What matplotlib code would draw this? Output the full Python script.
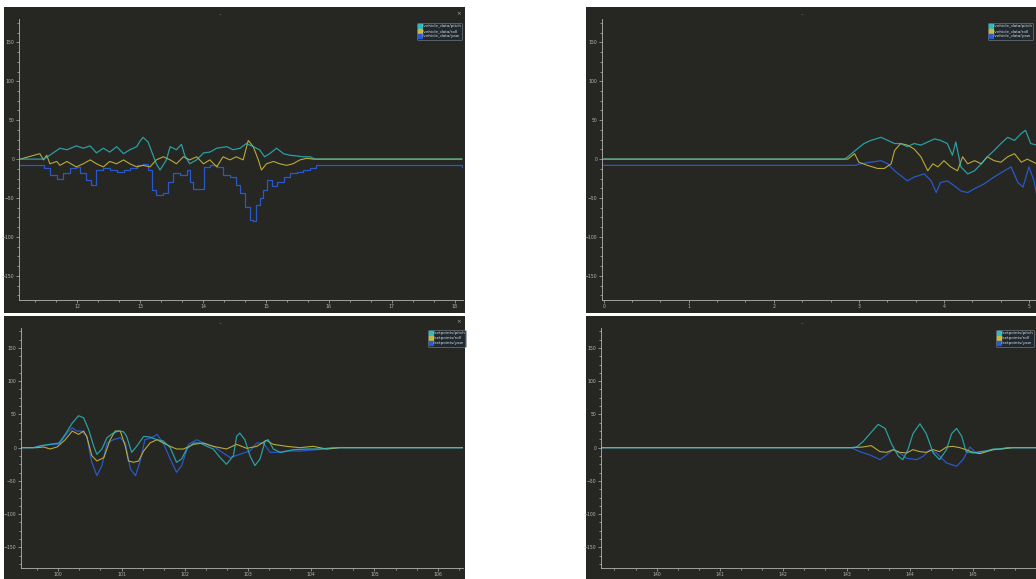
import numpy as np
import matplotlib
matplotlib.use("Agg")
import matplotlib.pyplot as plt
from matplotlib.patches import Rectangle
from matplotlib.lines import Line2D
from matplotlib.ticker import AutoMinorLocator

W, H = 1036, 579

# ---- top left: /vehicle_data ----
tl_pitch_t = [11.10, 11.47, 11.57, 11.73, 11.84, 11.99, 12.10, 12.21, 12.31, 12.42,
              12.52, 12.63, 12.74, 12.84, 12.95, 13.00, 13.05, 13.13, 13.19, 13.26,
              13.32, 13.42, 13.48, 13.58, 13.66, 13.71, 13.79, 13.90, 14.01, 14.11,
              14.22, 14.38, 14.48, 14.59, 14.69, 14.80, 14.90, 14.98, 15.06, 15.17,
              15.28, 15.38, 15.49, 15.59, 15.70, 15.78, 18.11]
tl_pitch_v = [0, 0, 5, 14, 12, 17, 14, 17, 8, 14,
              9, 16, 7, 12, 16, 23, 28, 22, 9, -6,
              -14, -1, 16, 12, 19, 5, -6, -1, 8, 9,
              14, 16, 12, 14, 20, 16, 12, 3, 7, 14,
              7, 5, 4, 3, 3, 0, 0]
tl_roll_t = [11.10, 11.41, 11.47, 11.52, 11.57, 11.68, 11.73, 11.84, 11.99, 12.10,
             12.21, 12.31, 12.42, 12.52, 12.63, 12.74, 12.84, 12.95, 13.05, 13.16,
             13.26, 13.37, 13.48, 13.58, 13.69, 13.79, 13.90, 14.01, 14.11, 14.22,
             14.32, 14.43, 14.53, 14.64, 14.72, 14.80, 14.88, 14.93, 15.01, 15.12,
             15.22, 15.33, 15.43, 15.54, 15.65, 15.75, 18.11]
tl_roll_v = [0, 7, -1, 5, -6, -3, -8, -3, -10, -6,
             -1, -6, -10, -3, -6, -1, -6, -10, -8, -10,
             -1, 3, -1, -6, 3, -1, 3, -6, -1, -10,
             3, -1, 3, -1, 24, 16, -1, -14, -6, -3,
             -6, -8, -6, -1, 1, 0, 0]
tl_yaw_t = [11.10, 11.41, 11.47, 11.57, 11.68, 11.78, 11.89, 11.99, 12.05, 12.15,
            12.23, 12.31, 12.42, 12.52, 12.63, 12.74, 12.84, 12.95, 13.05, 13.13,
            13.19, 13.26, 13.37, 13.45, 13.53, 13.63, 13.74, 13.79, 13.85, 13.95,
            14.01, 14.11, 14.22, 14.32, 14.43, 14.53, 14.59, 14.67, 14.75, 14.80,
            14.85, 14.90, 14.96, 15.01, 15.09, 15.17, 15.28, 15.38, 15.49, 15.59,
            15.70, 15.80, 18.11]
tl_yaw_v = [-8, -8, -12, -20, -25, -18, -12, -10, -18, -27,
            -33, -14, -12, -14, -16, -14, -12, -8, -6, -14,
            -40, -46, -44, -29, -18, -20, -14, -29, -38, -38,
            -10, -8, -10, -20, -23, -33, -44, -61, -78, -80,
            -59, -50, -40, -27, -35, -29, -23, -18, -16, -14,
            -12, -8, -10]

# ---- top right ----
tr_pitch_t = [0.0, 2.83, 2.87, 2.98, 3.06, 3.14, 3.26, 3.34, 3.42, 3.49,
              3.57, 3.65, 3.73, 3.81, 3.89, 3.96, 4.04, 4.10, 4.14, 4.20,
              4.28, 4.36, 4.44, 4.51, 4.59, 4.67, 4.75, 4.83, 4.91, 4.96,
              5.02, 5.09, 5.2, 5.3]
tr_pitch_v = [0, 0, 3, 13, 20, 24, 28, 24, 20, 20,
              16, 20, 18, 22, 26, 24, 20, 5, 22, -10,
              -19, -15, -6, 3, 11, 20, 28, 24, 33, 37,
              20, 18, 22, 20]
tr_roll_t = [0.0, 2.87, 2.95, 3.00, 3.10, 3.22, 3.30, 3.38, 3.42, 3.49,
             3.57, 3.65, 3.73, 3.81, 3.87, 3.93, 4.00, 4.08, 4.16, 4.22,
             4.28, 4.36, 4.44, 4.51, 4.59, 4.67, 4.75, 4.83, 4.91, 4.98,
             5.09, 5.2, 5.3]
tr_roll_v = [0, 0, 7, -4, -8, -12, -12, -6, 11, 20,
             18, 13, 3, -15, -6, -10, -2, -10, -15, 3,
             -6, -2, -6, 3, -2, -4, 3, 7, -4, 0,
             -6, -2, -4]
tr_yaw_t = [0.0, 2.95, 3.02, 3.14, 3.26, 3.34, 3.42, 3.49, 3.57, 3.65,
            3.77, 3.85, 3.91, 3.96, 4.04, 4.12, 4.20, 4.28, 4.36, 4.47,
            4.59, 4.71, 4.79, 4.87, 4.93, 5.00, 5.06, 5.09, 5.2, 5.3]
tr_yaw_v = [-8, -8, -6, -4, -2, -6, -15, -21, -28, -23,
            -19, -28, -43, -30, -28, -34, -41, -43, -38, -32,
            -23, -15, -10, -30, -36, -10, -28, -45, -30, -25]

# ---- bottom left: setpoints ----
bl_pitch_t = [99.41, 99.61, 99.72, 99.87, 100.01, 100.11, 100.22, 100.32, 100.40, 100.48,
              100.56, 100.61, 100.69, 100.77, 100.87, 100.95, 101.03, 101.08, 101.16, 101.24,
              101.35, 101.45, 101.56, 101.66, 101.77, 101.87, 101.95, 102.03, 102.14, 102.24,
              102.35, 102.45, 102.56, 102.66, 102.77, 102.82, 102.87, 102.95, 103.03, 103.11,
              103.19, 103.27, 103.32, 103.40, 103.51, 103.61, 103.72, 103.93, 104.14, 104.35,
              104.45, 106.40]
bl_pitch_v = [0, 0, 3, 5, 7, 20, 37, 48, 45, 27,
              2, -10, -2, 15, 22, 25, 24, 17, -7, 2,
              17, 16, 12, 10, 0, -22, -17, -2, 7, 7,
              2, -2, -15, -25, -12, 17, 22, 12, -12, -27,
              -17, 10, 12, -2, -7, -5, -3, -2, -2, 0,
              0, 0]
bl_roll_t = [99.41, 99.66, 99.77, 99.87, 99.98, 100.11, 100.22, 100.32, 100.40, 100.45,
             100.53, 100.61, 100.72, 100.82, 100.90, 100.98, 101.06, 101.11, 101.19, 101.27,
             101.35, 101.45, 101.56, 101.66, 101.77, 101.87, 101.98, 102.14, 102.29, 102.45,
             102.66, 102.82, 102.98, 103.14, 103.29, 103.40, 103.61, 103.82, 104.03, 104.24,
             104.35, 104.45, 106.40]
bl_roll_v = [0, 0, 1, -2, 1, 12, 25, 20, 25, 17,
             -12, -20, -15, 12, 25, 25, 2, -20, -22, -20,
             -5, 7, 12, 7, 2, -2, -2, 5, 7, 2,
             -2, 5, -1, 2, 11, 5, 2, 0, 2, -2,
             -1, 0, 0]
bl_yaw_t = [99.41, 99.61, 99.72, 99.87, 100.01, 100.14, 100.22, 100.29, 100.37, 100.45,
            100.53, 100.61, 100.69, 100.77, 100.87, 100.98, 101.06, 101.14, 101.22, 101.29,
            101.37, 101.48, 101.56, 101.66, 101.77, 101.87, 101.95, 102.06, 102.19, 102.29,
            102.45, 102.56, 102.72, 102.87, 103.03, 103.14, 103.24, 103.35, 103.51, 103.66,
            103.82, 104.08, 104.35, 104.45, 106.40]
bl_yaw_v = [0, 0, 2, 5, 5, 22, 30, 25, 25, 17,
            -22, -42, -27, 7, 12, 15, 7, -32, -42, -22,
            12, 15, 20, 7, -17, -37, -27, 5, 12, 7,
            2, -5, -15, -10, -5, 7, 7, -7, -7, -5,
            -5, -3, -1, 0, 0]

# ---- bottom right ----
br_pitch_t = [139.12, 143.08, 143.16, 143.26, 143.37, 143.50, 143.61, 143.71, 143.82, 143.89,
              143.97, 144.05, 144.16, 144.26, 144.37, 144.47, 144.58, 144.66, 144.74, 144.82,
              144.89, 145.00, 145.11, 145.21, 145.32, 145.42, 145.53, 146.5]
br_pitch_v = [0, 0, 1, 9, 21, 35, 29, 6, -13, -18,
              -3, 21, 36, 21, -8, -18, -3, 21, 29, 17,
              -6, -8, -6, -5, -2, -2, 0, 0]
br_roll_t = [139.12, 143.08, 143.26, 143.39, 143.53, 143.63, 143.74, 143.84, 143.95, 144.05,
             144.16, 144.26, 144.37, 144.47, 144.58, 144.68, 144.79, 144.89, 145.00, 145.11,
             145.21, 145.32, 145.42, 145.53, 145.63, 146.5]
br_roll_v = [0, 0, 1, 3, -6, -7, -3, -7, -8, -3,
             -6, -7, -3, -6, 1, 2, 0, -3, -7, -9,
             -6, -3, -2, -1, 0, 0]
br_yaw_t = [139.12, 143.08, 143.21, 143.37, 143.53, 143.63, 143.74, 143.84, 143.95, 144.11,
            144.21, 144.32, 144.42, 144.58, 144.74, 144.84, 144.95, 145.05, 145.16, 145.32,
            145.47, 145.58, 146.5]
br_yaw_v = [0, 0, -6, -11, -18, -11, -3, -8, -16, -18,
            -13, -3, -8, -23, -28, -18, 1, -8, -6, -3,
            -2, 0, 0]

top_names = ["/vehicle_data/pitch", "/vehicle_data/roll", "/vehicle_data/yaw"]
bot_names = ["/setpoints/pitch", "/setpoints/roll", "/setpoints/yaw"]

c_pitch = "#2cbcc0"
c_roll = "#c9b83a"
c_yaw = "#2b5bd2"
bg = "#262623"
fg = "#b4b4b4"

fig = plt.figure(figsize=(W / 100, H / 100), dpi=100, facecolor="white")


def px_rect(x0, y0, x1, y1):
    return [x0 / W, 1 - y1 / H, (x1 - x0) / W, (y1 - y0) / H]


def panel(x0, y0, x1, y1):
    fig.add_artist(Rectangle((x0 / W, 1 - y1 / H), (x1 - x0) / W, (y1 - y0) / H,
                             transform=fig.transFigure, facecolor=bg, edgecolor="none", zorder=0))
    fig.text((x0 + 216) / W, 1 - (y0 + 8) / H, "\u2013", color="#888888",
             fontsize=4, ha="center", va="center")


def setup(ax, xlim, xticks):
    ax.set_facecolor(bg)
    ax.patch.set_alpha(0)
    ax.set_xlim(*xlim)
    ax.set_ylim(-181, 180)
    for s in ["top", "right"]:
        ax.spines[s].set_visible(False)
    for s in ["left", "bottom"]:
        ax.spines[s].set_color(fg)
        ax.spines[s].set_linewidth(0.6)
    ax.set_yticks([-150, -100, -50, 0, 50, 100, 150])
    ax.yaxis.set_minor_locator(AutoMinorLocator(4))
    ax.set_xticks(xticks)
    ax.set_xticklabels([str(t) for t in xticks])
    ax.xaxis.set_minor_locator(AutoMinorLocator(3))
    ax.tick_params(which="both", colors=fg, labelsize=3.3, width=0.5, length=2, pad=1.2)
    ax.tick_params(which="minor", length=1.2)


def draw(ax, p, r, y, steps_yaw=False):
    ax.plot(y[0], y[1], color=c_yaw, lw=0.9, alpha=0.95,
            drawstyle="steps-post" if steps_yaw else "default")
    ax.plot(r[0], r[1], color=c_roll, lw=0.8, alpha=0.9)
    ax.plot(p[0], p[1], color=c_pitch, lw=0.9, alpha=0.8)


def legend(ax, names, x, y):
    handles = [Line2D([], [], marker="s", ls="none", color=c, markersize=2.5)
               for c in (c_pitch, c_roll, c_yaw)]
    leg = ax.legend(handles, names, loc="upper left", bbox_to_anchor=(x / W, 1 - y / H),
                    bbox_transform=fig.transFigure, fontsize=3, frameon=True,
                    facecolor="#1e2a33", edgecolor="#9aa5ad", labelcolor="#d8d8d8",
                    handlelength=0.6, handletextpad=0.3, borderpad=0.3, labelspacing=0.25,
                    borderaxespad=0)
    leg.get_frame().set_linewidth(0.4)


# panels
panel(4, 7, 465, 313)
panel(586, 7, 1036, 313)
panel(4, 316, 465, 579)
panel(586, 316, 1036, 579)

# top left
ax1 = fig.add_axes(px_rect(19, 19, 463, 300))
setup(ax1, (11.08, 18.13), [12, 13, 14, 15, 16, 17, 18])
draw(ax1, (tl_pitch_t, tl_pitch_v), (tl_roll_t, tl_roll_v), (tl_yaw_t, tl_yaw_v), steps_yaw=True)
legend(ax1, top_names, 417, 23)
fig.text(459 / W, 1 - 14 / H, "\u00d7", color="#aaaaaa", fontsize=4, ha="center", va="center")

# top right (the window is cut at the right edge of the picture)
ax2 = fig.add_axes(px_rect(602, 19, 1114, 300))
setup(ax2, (-0.02, 6.0), [0, 1, 2, 3, 4, 5])
draw(ax2, (tr_pitch_t, tr_pitch_v), (tr_roll_t, tr_roll_v), (tr_yaw_t, tr_yaw_v))
legend(ax2, top_names, 988, 23)

# bottom left
ax3 = fig.add_axes(px_rect(21, 328, 463, 568))
setup(ax3, (99.41, 106.40), [100, 101, 102, 103, 104, 105, 106])
draw(ax3, (bl_pitch_t, bl_pitch_v), (bl_roll_t, bl_roll_v), (bl_yaw_t, bl_yaw_v))
legend(ax3, bot_names, 428, 330)
fig.text(459 / W, 1 - 322 / H, "\u00d7", color="#aaaaaa", fontsize=4, ha="center", va="center")

# bottom right
ax4 = fig.add_axes(px_rect(601, 328, 1068, 568))
setup(ax4, (139.12, 146.5), [140, 141, 142, 143, 144, 145])
draw(ax4, (br_pitch_t, br_pitch_v), (br_roll_t, br_roll_v), (br_yaw_t, br_yaw_v))
legend(ax4, bot_names, 996, 330)

fig.savefig("out.png", dpi=100, facecolor="white")
